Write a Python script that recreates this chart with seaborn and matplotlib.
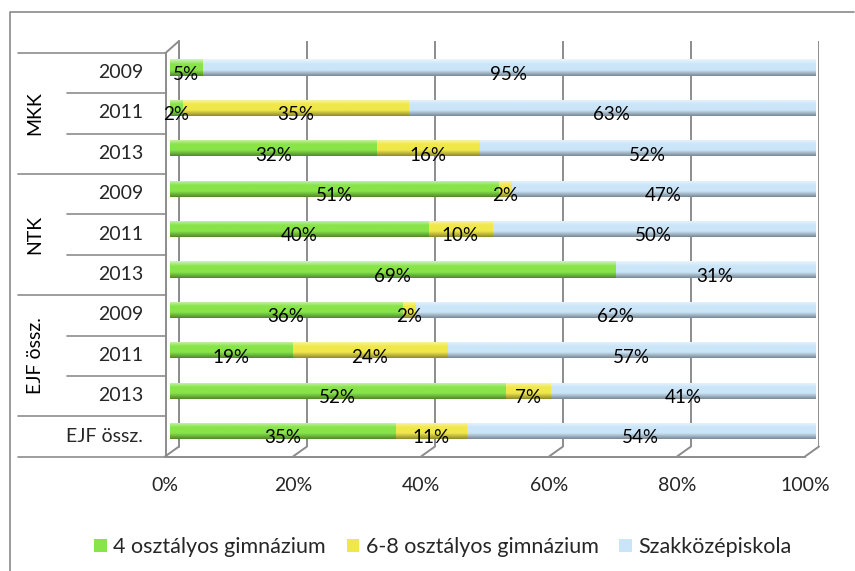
import numpy as np
import pandas as pd
import matplotlib
matplotlib.use("Agg")
import matplotlib.pyplot as plt
import matplotlib.colors as mcolors
import matplotlib.transforms as mtrans
from matplotlib.patches import Patch
import seaborn as sns

# ---------------- data ----------------
groups = ["MKK", "MKK", "MKK", "NTK", "NTK", "NTK",
          "EJF össz.", "EJF össz.", "EJF össz.", ""]
row_labels = ["2009", "2011", "2013", "2009", "2011", "2013",
              "2009", "2011", "2013", "EJF össz."]
group_names = ["MKK", "NTK", "EJF össz."]
series_names = ["4 osztályos gimnázium", "6-8 osztályos gimnázium", "Szakközépiskola"]
gimn4 = [5, 2, 32, 51, 40, 69, 36, 19, 52, 35]
gimn68 = [0, 35, 16, 2, 10, 0, 2, 24, 7, 11]
szakk = [95, 63, 52, 47, 50, 31, 62, 57, 41, 54]
x_ticks = [0, 20, 40, 60, 80, 100]
x_tick_labels = ["0%", "20%", "40%", "60%", "80%", "100%"]
colors = ["#88E448", "#F0E84A", "#CBE5F8"]

# ---------------- setup ----------------
sns.set_theme(style="white")
FONT = ["Lato", "DejaVu Sans"]
plt.rcParams["font.family"] = FONT

W, H = 855, 571
fig = plt.figure(figsize=(W / 100, H / 100), dpi=100)


def rect(x0, y0, x1, y1):
    """pixel box (top-left origin) -> figure fraction [l, b, w, h]"""
    return [x0 / W, 1 - y1 / H, (x1 - x0) / W, (y1 - y0) / H]


GRID = "#8C8C8C"
FS = 14

# overlay axes in pixel coordinates for frame / 3D decorations
ov = fig.add_axes([0, 0, 1, 1], zorder=0)
ov.set_xlim(0, W)
ov.set_ylim(H, 0)
ov.axis("off")

# chart border
ov.plot([9.5, 9.5, 854], [H + 5, 12, 12], color="#8A8A8A", lw=1.2, clip_on=False)

# back wall (gridlines) axes: 0..100 -> x 179..819
back = fig.add_axes(rect(179, 41, 819, 447), zorder=1)
back.set_xlim(0, 100)
back.set_ylim(0, 1)
back.set_xticks(x_ticks)
back.set_xticklabels([])
back.set_yticks([])
back.tick_params(length=0)
back.grid(axis="x", color=GRID, lw=1.4)
for s in back.spines.values():
    s.set_visible(False)
back.patch.set_alpha(0)

# front floor axis: 0..100 -> x 165..805, floor line at y 456.5
front = fig.add_axes(rect(165, 300, 805, 456.5), zorder=1)
front.set_xlim(0, 100)
front.set_xticks(x_ticks)
front.set_xticklabels(x_tick_labels, fontsize=FS, family=FONT)
front.set_yticks([])
front.tick_params(axis="x", direction="out", length=6, width=1.4, color=GRID, pad=9)
for k, s in front.spines.items():
    s.set_visible(k == "bottom")
front.spines["bottom"].set_color(GRID)
front.spines["bottom"].set_linewidth(1.4)
front.patch.set_alpha(0)

# diagonals connecting back wall to floor
for i in range(6):
    xb = 179 + 128 * i
    xf = 165 + 128 * i
    ov.plot([xb, xf], [446.5, 456.5], color=GRID, lw=1.4)
# left wall edges
ov.plot([179, 165.5], [41, 53], color=GRID, lw=1.4)
ov.plot([165.5, 165.5], [53, 456.5], color=GRID, lw=1.4)
ov.plot([179, 179], [41, 446.5], color=GRID, lw=1.4)

# category table lines
row_top = 52.7
row_h = 40.4
ov.plot([18, 165.5], [row_top, row_top], color=GRID, lw=1.2)
for k in range(1, 11):
    y = row_top + row_h * k
    x0 = 18 if k in (3, 6, 9, 10) else 67
    ov.plot([x0, 165.5], [y, y], color=GRID, lw=1.2)

# group labels
for gi, g in enumerate(group_names):
    yc = row_top + row_h * (3 * gi + 1.5)
    ov.text(35, yc, g, rotation=90, ha="center", va="center", fontsize=FS,
            family=FONT, color="black")

# ---------------- bars ----------------
df = pd.DataFrame({
    "row": [f"{g}|{r}|{i}" for i, (g, r) in enumerate(zip(groups, row_labels))],
    "g4": gimn4, "g68": gimn68, "sz": szakk,
})
df["c1"] = df["g4"]
df["c2"] = df["g4"] + df["g68"]
df["c3"] = df["g4"] + df["g68"] + df["sz"]

# bar axes: 0..100 -> x 170..815 ; rows centred at y 67.5 + 40.4k
ax = fig.add_axes(rect(170, 47.3, 815, 47.3 + 404), zorder=2)
ax.patch.set_alpha(0)
bw = 0.40
layers = [("c3", colors[2]), ("c2", colors[1]), ("c1", colors[0])]
for li, (col, c) in enumerate(layers):
    n_before = len(ax.patches)
    sns.barplot(data=df, x=col, y="row", orient="h", color=c, width=bw,
                ax=ax, saturation=1, linewidth=0)
    for p in ax.patches[n_before:]:
        p.set_zorder(2 + li * 2)

ax.set_xlim(0, 100)
ax.set_ylim(9.5, -0.5)

# cylinder-like shading
for p in list(ax.patches):
    x, y = p.get_x(), p.get_y()
    w, h = p.get_width(), p.get_height()
    if w <= 0:
        continue
    base = np.array(mcolors.to_rgb(p.get_facecolor()))
    t = np.linspace(0, 1, 40)
    light = base + (1 - base) * 0.6
    dark = base * 0.6
    grad = np.zeros((40, 1, 3))
    for j, tt in enumerate(t):
        if tt < 0.3:
            a = tt / 0.3
            grad[j, 0] = light * (1 - a) + base * a
        elif tt < 0.65:
            grad[j, 0] = base
        else:
            a = (tt - 0.65) / 0.35
            grad[j, 0] = base * (1 - a) + dark * a
    im = ax.imshow(grad, extent=(x, x + w, y + h, y), aspect="auto",
                   interpolation="bilinear", zorder=p.get_zorder() + 0.5)
    im.set_clip_path(p)

ax.set_xlim(0, 100)
ax.set_ylim(9.5, -0.5)

# data labels
for i in range(len(row_labels)):
    starts = [0, gimn4[i], gimn4[i] + gimn68[i]]
    vals = [gimn4[i], gimn68[i], szakk[i]]
    for s, v in zip(starts, vals):
        if v <= 0:
            continue
        ax.text(s + v / 2, i + 0.17, f"{v}%", ha="center", va="center",
                fontsize=13.5, family=FONT, color="black", zorder=20)

# year tick labels
ax.set_yticks(range(len(row_labels)))
ax.set_yticklabels(row_labels, fontsize=FS, family=FONT)
ax.tick_params(axis="y", length=0, pad=19.5)
offset = mtrans.ScaledTranslation(0, -5 / 100, fig.dpi_scale_trans)
for lab in ax.get_yticklabels():
    lab.set_verticalalignment("center")
    lab.set_transform(lab.get_transform() + offset)
ax.set_xticks([])
ax.set_xlabel("")
ax.set_ylabel("")
for s in ax.spines.values():
    s.set_visible(False)

# legend
handles = [Patch(facecolor=c, edgecolor="none") for c in colors]
leg = fig.legend(handles, series_names, loc="center", ncol=3,
                 bbox_to_anchor=(443 / W, 1 - 547 / H), frameon=False,
                 prop={"family": FONT, "size": 15.5},
                 handlelength=0.6, handleheight=0.6, handletextpad=0.3,
                 columnspacing=0.95)

fig.savefig("out.png", dpi=100)
